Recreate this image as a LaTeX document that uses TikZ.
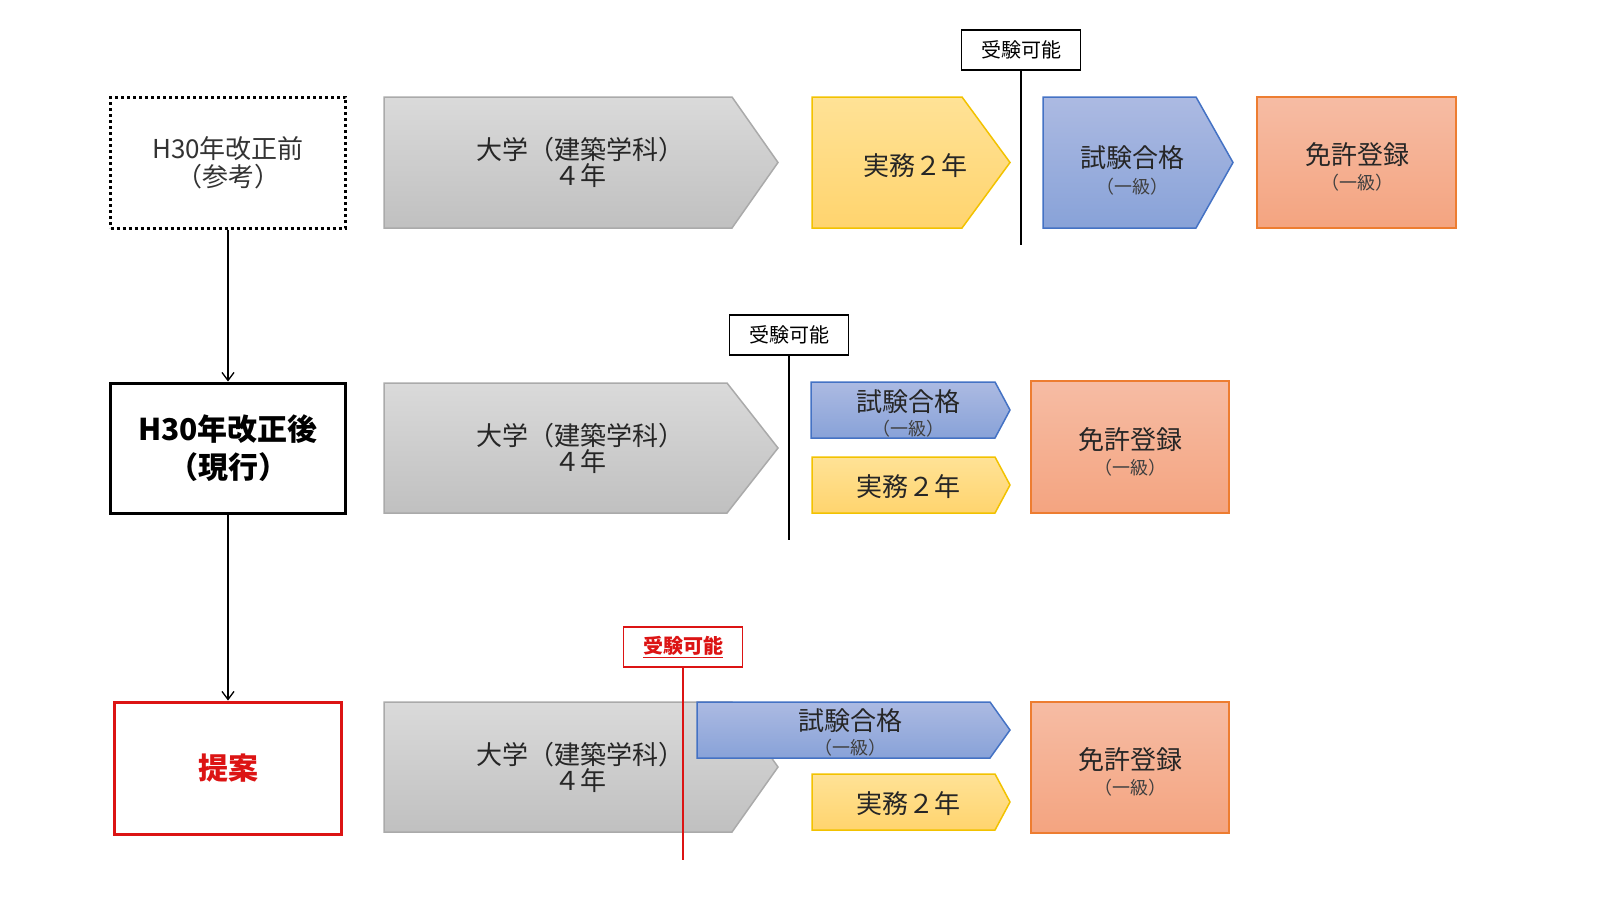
\documentclass[tikz,border=0pt]{standalone}
\usepackage{fontspec}
\setmainfont{Noto Sans CJK JP}
\usetikzlibrary{arrows.meta}
\definecolor{rd}{RGB}{220,20,20}
\begin{document}
\begin{tikzpicture}[x=1pt,y=-1pt,
 gry/.style={draw={rgb,255:red,170;green,170;blue,170},line width=1.5pt,top color={rgb,255:red,218;green,218;blue,218},bottom color={rgb,255:red,192;green,192;blue,192}},
 yel/.style={draw={rgb,255:red,242;green,194;blue,0},line width=1.5pt,top color={rgb,255:red,255;green,226;blue,150},bottom color={rgb,255:red,255;green,212;blue,110}},
 blu/.style={draw={rgb,255:red,68;green,114;blue,196},line width=1.5pt,top color={rgb,255:red,172;green,186;blue,226},bottom color={rgb,255:red,136;green,162;blue,216}},
 org/.style={draw={rgb,255:red,237;green,125;blue,49},line width=1.5pt,top color={rgb,255:red,246;green,188;blue,164},bottom color={rgb,255:red,244;green,164;blue,128}},
 txt/.style={align=center,font=\fontsize{26}{30}\selectfont,text=black!85},
 sub/.style={font=\fontsize{18}{20}\selectfont,text=black!75},
 lab/.style={draw=black,line width=1.5pt,fill=white,font=\fontsize{20}{22}\selectfont,minimum width=119pt,minimum height=40pt,inner sep=0pt},
 arr/.style={-{Straight Barb[length=8pt,width=12pt]},line width=1.3pt}]
\useasboundingbox (0,0) rectangle (1600,900);
\newcommand\chev[6]{% style, x1, x2(body end), xtip, ytop, ybot
 \path[#1] (#2,#5) -- (#3,#5) -- (#4,{(#5+#6)/2}) -- (#3,#6) -- (#2,#6) -- cycle;}
% Row 1
\node[draw,dashed,line width=3pt,minimum width=235pt,minimum height=131pt,txt,text=black!80] (b1) at (228,162.5) {H30年改正前\\[-2pt]（参考）};
\chev{gry}{384}{732}{778}{97}{228}
\node[txt] (u1) at (580,162) {大学（建築学科）\\[-4pt]４年};
\chev{yel}{812}{962}{1010}{97}{228}
\node[txt] (y1) at (915,166) {実務２年};
\chev{blu}{1043}{1196}{1233}{97}{228}
\node[txt] (s1) at (1132,158) {試験合格};
\node[sub] (s1b) at (1132,187) {（一級）};
\path[org] (1257,97) rectangle (1456,228);
\node[txt] (m1) at (1357,155) {免許登録};
\node[sub] (m1b) at (1357,183) {（一級）};
\node[lab] (l1) at (1021,50) {受験可能};
\coordinate (e1) at (1021,245);
\draw[line width=1.5pt] (l1.south) -- (e1);
% Row 2
\node[draw,line width=3pt,minimum width=235pt,minimum height=130pt,align=center,font=\bfseries\fontsize{30}{38}\selectfont] (b2) at (228,448) {H30年改正後\\（現行）};
\chev{gry}{384}{727}{778}{383}{513}
\node[txt] (u2) at (580,448) {大学（建築学科）\\[-4pt]４年};
\chev{blu}{811}{995}{1010}{382}{438}
\node[txt] (s2) at (908,402) {試験合格};
\node[sub] (s2b) at (908,429) {（一級）};
\chev{yel}{812}{995}{1010}{457}{513}
\node[txt] (y2) at (908,487) {実務２年};
\path[org] (1031,381) rectangle (1229,513);
\node[txt] (m2) at (1130,440) {免許登録};
\node[sub] (m2b) at (1130,468) {（一級）};
\node[lab] (l2) at (789,335) {受験可能};
\coordinate (e2) at (789,540);
\draw[line width=1.5pt] (l2.south) -- (e2);
% Row 3
\node[draw=rd,line width=3pt,minimum width=227pt,minimum height=132pt,text=rd,font=\bfseries\fontsize{30}{36}\selectfont] (b3) at (228,768) {提案};
\chev{gry}{384}{732}{778}{702}{832}
\node[txt] (u3) at (580,767) {大学（建築学科）\\[-4pt]４年};
\chev{blu}{697}{990}{1010}{702}{758}
\node[txt] (s3) at (850,721) {試験合格};
\node[sub] (s3b) at (850,748) {（一級）};
\chev{yel}{812}{995}{1010}{774}{830}
\node[txt] (y3) at (908,804) {実務２年};
\path[org] (1031,702) rectangle (1229,833);
\node[txt] (m3) at (1130,760) {免許登録};
\node[sub] (m3b) at (1130,788) {（一級）};
\node[lab,draw=rd,text=rd,font=\bfseries\fontsize{20}{22}\selectfont] (l3) at (683,647) {\underline{受験可能}};
\coordinate (e3) at (683,860);
\draw[line width=2pt,rd] (l3.south) -- (e3);
% arrows
\draw[arr] (b1.south) -- (b2.north);
\draw[arr] (b2.south) -- (b3.north);
\end{tikzpicture}
\end{document}
